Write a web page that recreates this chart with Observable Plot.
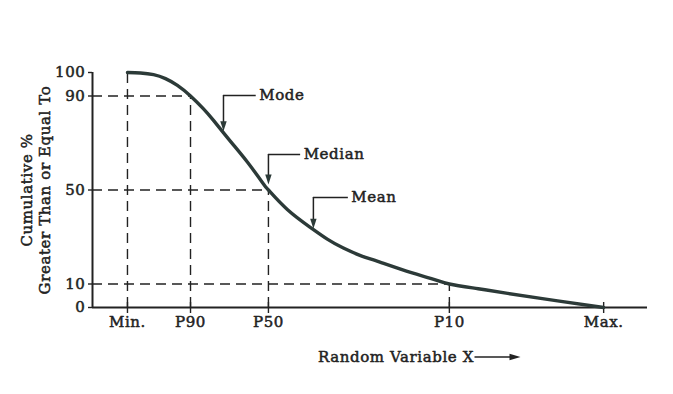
<!DOCTYPE html>
<html><head><meta charset="utf-8">
<script src="https://cdn.jsdelivr.net/npm/d3@7"></script>
<script src="https://cdn.jsdelivr.net/npm/@observablehq/plot@0.6"></script>
<style>body{margin:0;background:#fff}</style>
</head><body><div id="chart"></div>
<script>
// Curve (random variable X in arbitrary units, cumulative % >= x)
const curveX = [6.3, 8.65, 11.0, 13.15, 15.3, 17.66, 20.0, 21.8, 24.9, 27.9, 30.8, 31.7, 35.1, 39.3, 42.3, 45.2, 48.3, 51.4, 57.3, 60.9, 64.3, 69.5, 74.8, 83.8, 92.1];
const curveY = [100, 99.8, 99.1, 97.4, 94.5, 90, 84.5, 79.6, 70.6, 61.9, 52.6, 50, 41.7, 34.0, 29.1, 25.3, 22.1, 19.6, 14.9, 12.4, 10, 8.0, 6.0, 2.8, 0];
// Axis ticks
const xTickValues = [6.3, 17.66, 31.7, 64.3, 92.1];
const xTickLabels = ["Min.", "P90", "P50", "P10", "Max."];
const yTickValues = [0, 10, 50, 90, 100];
// Dashed guide lines
const vGuideX = [6.3, 17.66, 31.7, 64.3];
const vGuideTop = [100, 90, 50, 10];
const hGuideY = [90, 50, 10];
const hGuideEnd = [17.66, 31.7, 64.3];
// Annotations
const noteNames = ["Mode", "Median", "Mean"];
const noteX = [23.6, 31.7, 39.8];
const noteTipY = [75, 52.3, 33.5];
const noteLabelY = [90.2, 65.1, 46.8];
const noteLabelX = [29.5, 37.5, 46.1];
const xTitle = "Random Variable X";
const yTitle = "Cumulative %\nGreater Than or Equal To";

const curve = curveX.map((x, i) => ({x, y: curveY[i]}));
const xTicks = xTickValues.map((x, i) => ({x, label: xTickLabels[i]}));
const vGuides = vGuideX.map((x, i) => ({x, top: vGuideTop[i]}));
const hGuides = hGuideY.map((y, i) => ({y, end: hGuideEnd[i]}));
const notes = noteNames.map((name, i) => ({name, x: noteX[i], tip: noteTipY[i], ly: noteLabelY[i], lx: noteLabelX[i]}));

const ink = "#222";
const curveColor = "#2c3a38";
const font = "DejaVu Serif";
const dash = "10,6";
const txt = {fontSize: 15, fill: ink, stroke: ink, strokeWidth: 0.5};

const arrowHead = {
  draw(ctx) {
    ctx.moveTo(0, 0);
    ctx.lineTo(-3.2, -10);
    ctx.lineTo(3.2, -10);
    ctx.closePath();
  }
};

const xArrow = (index, scales, values, dimensions) => {
  const {width, marginLeft, marginRight, height, marginBottom} = dimensions;
  const cx = (marginLeft + width - marginRight) / 2;
  const x0 = cx + 105, x1 = cx + 151, y = height - marginBottom + 50;
  const g = d3.create("svg:g");
  g.append("line").attr("x1", x0).attr("x2", x1 - 8).attr("y1", y).attr("y2", y)
    .attr("stroke", ink).attr("stroke-width", 1.6);
  g.append("path").attr("d", `M${x1},${y}L${x1 - 11},${y - 3.2}L${x1 - 11},${y + 3.2}Z`).attr("fill", ink);
  return g.node();
};

const chart = Plot.plot({
  width: 673,
  height: 394,
  marginLeft: 92,
  marginRight: 26,
  marginTop: 72,
  marginBottom: 87,
  x: {domain: [0, 100], axis: null},
  y: {domain: [0, 100], axis: null},
  style: {fontFamily: font, color: ink, background: "#fff", letterSpacing: "0.6px"},
  marks: [
    // dashed guides
    Plot.ruleY(hGuides, {y: "y", x1: 0, x2: "end", stroke: ink, strokeWidth: 1.4, strokeDasharray: dash}),
    Plot.ruleX(vGuides, {x: "x", y1: 0, y2: "top", stroke: ink, strokeWidth: 1.4, strokeDasharray: dash}),
    // axes lines
    Plot.ruleX([0], {stroke: ink, strokeWidth: 2}),
    Plot.ruleY([0], {stroke: ink, strokeWidth: 1.8}),
    // x ticks crossing the axis
    Plot.ruleX(xTickValues, {y1: 0, y2: 0, insetTop: 6, insetBottom: 5, stroke: ink, strokeWidth: 1.4}),
    Plot.text(xTicks, {x: "x", y: 0, text: "label", dy: 15, lineAnchor: "middle", ...txt}),
    // y ticks
    Plot.ruleY(yTickValues, {y: d => d, x1: 0, x2: 0, insetLeft: -4, stroke: ink, strokeWidth: 1.4}),
    Plot.text(yTickValues, {y: d => d, x: 0, text: d => String(d), dx: -7, textAnchor: "end", ...txt}),
    // curve
    Plot.line(curve, {x: "x", y: "y", curve: "natural", stroke: curveColor, strokeWidth: 3.4}),
    // annotations
    Plot.ruleY(notes, {y: "ly", x1: "x", x2: "lx", stroke: ink, strokeWidth: 1.5}),
    Plot.ruleX(notes, {x: "x", y1: "ly", y2: "tip", insetBottom: 6, stroke: ink, strokeWidth: 1.5}),
    Plot.dot(notes, {x: "x", y: "tip", symbol: arrowHead, fill: curveColor, stroke: null}),
    Plot.text(notes, {x: "lx", y: "ly", text: "name", textAnchor: "start", dx: 3, ...txt}),
    // titles
    Plot.text([yTitle], {text: d => d, frameAnchor: "left", dx: -57, rotate: -90, textAnchor: "middle", lineHeight: 1.15, ...txt}),
    Plot.text([xTitle], {text: d => d, frameAnchor: "bottom", dx: 104, dy: 50, textAnchor: "end", lineAnchor: "middle", ...txt}),
    xArrow
  ]
});
document.getElementById("chart").appendChild(chart);
</script>
</body></html>
